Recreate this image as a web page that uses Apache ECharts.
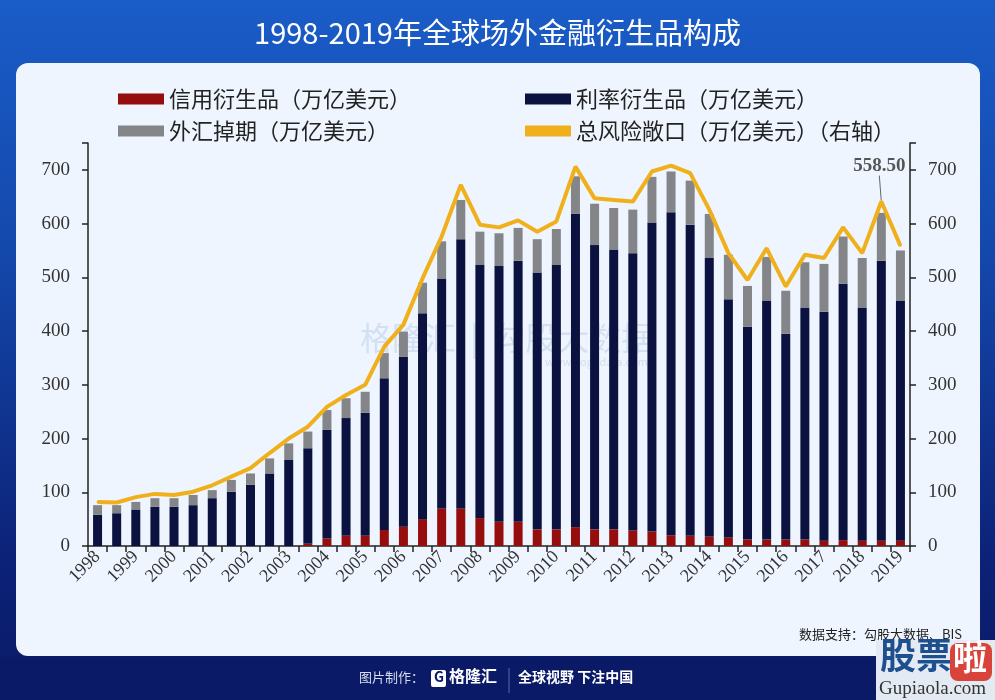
<!DOCTYPE html>
<html><head><meta charset="utf-8">
<script src="https://cdn.jsdelivr.net/npm/echarts@6/dist/echarts.min.js"></script>
<style>html,body{margin:0;padding:0;background:#0b1c6c;}#c{width:995px;height:700px;}</style>
</head><body><div id="c"></div>
<script>
// Categories: semi-annual BIS observations, Jun 1998 .. Jun 2019
var periods = ["1998H1","1998H2","1999H1","1999H2","2000H1","2000H2","2001H1","2001H2","2002H1","2002H2",
 "2003H1","2003H2","2004H1","2004H2","2005H1","2005H2","2006H1","2006H2","2007H1","2007H2",
 "2008H1","2008H2","2009H1","2009H2","2010H1","2010H2","2011H1","2011H2","2012H1","2012H2",
 "2013H1","2013H2","2014H1","2014H2","2015H1","2015H2","2016H1","2016H2","2017H1","2017H2",
 "2018H1","2018H2","2019H1"];
// 信用衍生品 (万亿美元)
var creditValues = [0,0,0,0,0,0,0,0,0,0, 0,4,14,19,19,30,36,50,70,70,
 52,45,45,31,31,35,31,31,29,27, 20,19,17,16,12,12,12,12,10,11, 10,10,10];
// 利率衍生品 (万亿美元)
var interestValues = [58,61,68,73,73,76,89,101,114,135, 160,178,202,219,229,282,316,383,428,501,
 471,476,486,478,492,583,529,521,516,575, 601,579,519,443,396,445,383,432,426,477, 434,521,447];
// 外汇掉期 (万亿美元)
var fxValues = [18,15,14,16,16,19,15,22,21,28, 31,31,37,37,39,47,47,57,69,73,
 62,61,61,62,67,70,77,77,81,85, 76,82,82,83,76,81,80,84,89,88, 92,89,93];
// 总风险敞口 (万亿美元) (右轴)
var totalValues = [82,81,91,97,95,101,113,129,145,173, 200,222,259,281,300,371,412,498,576,672,
 598,593,606,585,604,706,647,644,641,697, 708,694,626,545,495,554,483,542,536,593, 545,641,558.5];
var axisTicks = [0,100,200,300,400,500,600,700];

var names = ["信用衍生品（万亿美元）","利率衍生品（万亿美元）","外汇掉期（万亿美元）","总风险敞口（万亿美元）（右轴）"];
var annotateIndex = 41;

var chart = echarts.init(document.getElementById('c'), null, {renderer:'canvas'});
var serif = "'Liberation Serif','DejaVu Serif',serif";
var cjk = "'Noto Sans CJK SC','Noto Sans',sans-serif";

function legendAt(name, left, top, icon) {
  return {
    data: [{name: name, icon: icon}],
    left: left, top: top, itemWidth: 46, itemHeight: 11, itemGap: 2,
    textStyle: {fontFamily: cjk, fontSize: 22, color: '#222', padding: [0,0,0,0]},
    selectedMode: false
  };
}

var totalData = totalValues.map(function(v, i){
  if (i === annotateIndex) {
    return {value: v, label: {show: true, position: 'top',
      formatter: function(){ return totalValues[totalValues.length-1].toFixed(2); }}};
  }
  return v;
});

var yAxisBase = {
  type: 'value', min: 0, max: 750, interval: 100,
  axisLine: {show: true, lineStyle: {color: '#222', width: 1.5}},
  axisTick: {show: true, inside: false, length: 6, lineStyle: {color: '#222', width: 1.5}},
  splitLine: {show: false},
  axisLabel: {fontFamily: serif, fontSize: 19, color: '#333', margin: 18,
    formatter: function(v){ return axisTicks.indexOf(v) >= 0 ? String(v) : ''; }}
};

var option = {
  animation: false,
  backgroundColor: 'transparent',
  graphic: [
    {type: 'rect', z: -10, shape: {x: 0, y: 0, width: 995, height: 700},
      style: {fill: new echarts.graphic.LinearGradient(0,0,0,1,[
        {offset:0, color:'#1a5cc8'},{offset:0.35,color:'#1449ac'},{offset:0.8,color:'#0c2278'},{offset:1,color:'#0a1a66'}])}},
    {type: 'rect', z: -9, shape: {x: 16, y: 63, width: 964, height: 593, r: 12},
      style: {fill: '#eef5fe'}},
    {type: 'rect', z: -9, shape: {x: 0, y: 657, width: 995, height: 43},
      style: {fill: '#0a1a66'}},
    {type: 'text', z: -8, left: 360, top: 322,
      style: {text: '格隆汇  |  勾股大数据', fill: 'rgba(120,150,200,0.22)', font: '32px ' + cjk}},
    {type: 'text', z: -8, left: 545, top: 356,
      style: {text: 'www.gogudata.com', fill: 'rgba(120,150,200,0.25)', font: '11px ' + cjk}},
    {type: 'text', left: 799, top: 628,
      style: {text: '数据支持：勾股大数据、BIS', fill: '#222', font: '13px ' + cjk}},
    {type: 'text', left: 359, top: 671,
      style: {text: '图片制作：', fill: '#d6ddf0', font: '13px ' + cjk}},
    {type: 'rect', shape: {x: 431, y: 670, width: 15, height: 17, r: 2}, style: {fill: '#ffffff'}},
    {type: 'text', left: 434, top: 670, style: {text: 'G', fill: '#0a1a66', font: 'bold 14px ' + cjk}},
    {type: 'text', left: 449, top: 668, style: {text: '格隆汇', fill: '#ffffff', font: 'bold 16px ' + cjk}},
    {type: 'line', shape: {x1: 509, y1: 668, x2: 509, y2: 693}, style: {stroke: '#5b6ba6', lineWidth: 1}},
    {type: 'text', left: 518, top: 670,
      style: {text: '全球视野 下注中国', fill: '#ffffff', font: 'bold 14px ' + cjk}},
    {type: 'rect', shape: {x: 876, y: 640, width: 119, height: 60}, style: {fill: '#e4eaf3'}},
    {type: 'text', left: 880, top: 637, style: {text: '股票', fill: '#1e4f8f', font: 'bold 36px ' + cjk}},
    {type: 'rect', shape: {x: 950, y: 643, width: 42, height: 38, r: 8}, style: {fill: '#d9443a'}},
    {type: 'text', left: 953, top: 640, style: {text: '啦', fill: '#ffffff', font: 'bold 34px ' + cjk}},
    {type: 'text', left: 879, top: 680, style: {text: 'Gupiaola.com', fill: '#333', font: '19px ' + serif}}
  ],
  title: {
    text: '1998-2019年全球场外金融衍生品构成',
    left: 'center', top: 13,
    textStyle: {color: '#ffffff', fontFamily: cjk, fontSize: 29, fontWeight: 'normal'}
  },
  legend: [
    legendAt(names[0], 113, 83, 'rect'),
    legendAt(names[1], 520, 83, 'rect'),
    legendAt(names[2], 113, 115, 'rect'),
    legendAt(names[3], 520, 115, 'rect')
  ],
  grid: {left: 88, right: 85, top: 143, bottom: 154},
  xAxis: {
    type: 'category', data: periods, boundaryGap: true,
    axisLine: {lineStyle: {color: '#222', width: 1.5}},
    axisTick: {show: true, interval: 0, length: 6, lineStyle: {color: '#222', width: 1.5}},
    axisLabel: {interval: 1, rotate: 45, fontFamily: serif, fontSize: 18, color: '#333', margin: 8,
      formatter: function(v){ return v.slice(0,4); }}
  },
  yAxis: [
    Object.assign({}, yAxisBase, {position: 'left'}),
    Object.assign({}, yAxisBase, {position: 'right'})
  ],
  series: [
    {name: names[0], type: 'bar', stack: 'a', data: creditValues, barWidth: 9,
      itemStyle: {color: '#960d0d'}},
    {name: names[1], type: 'bar', stack: 'a', data: interestValues, barWidth: 9,
      itemStyle: {color: '#0b1240'}},
    {name: names[2], type: 'bar', stack: 'a', data: fxValues, barWidth: 9,
      itemStyle: {color: '#838589'}},
    {name: names[3], type: 'line', yAxisIndex: 1, data: totalData,
      symbol: 'circle', symbolSize: 2, showSymbol: true,
      lineStyle: {color: '#f0b01c', width: 4}, itemStyle: {color: '#f0b01c'}, z: 5,
      label: {show: false, fontFamily: serif, fontSize: 19, fontWeight: 'bold', color: '#555'},
      labelLayout: {dx: -2, dy: -20},
      labelLine: {show: true, lineStyle: {color: '#666', width: 1}}}
  ]
};
chart.setOption(option);
</script></body></html>
